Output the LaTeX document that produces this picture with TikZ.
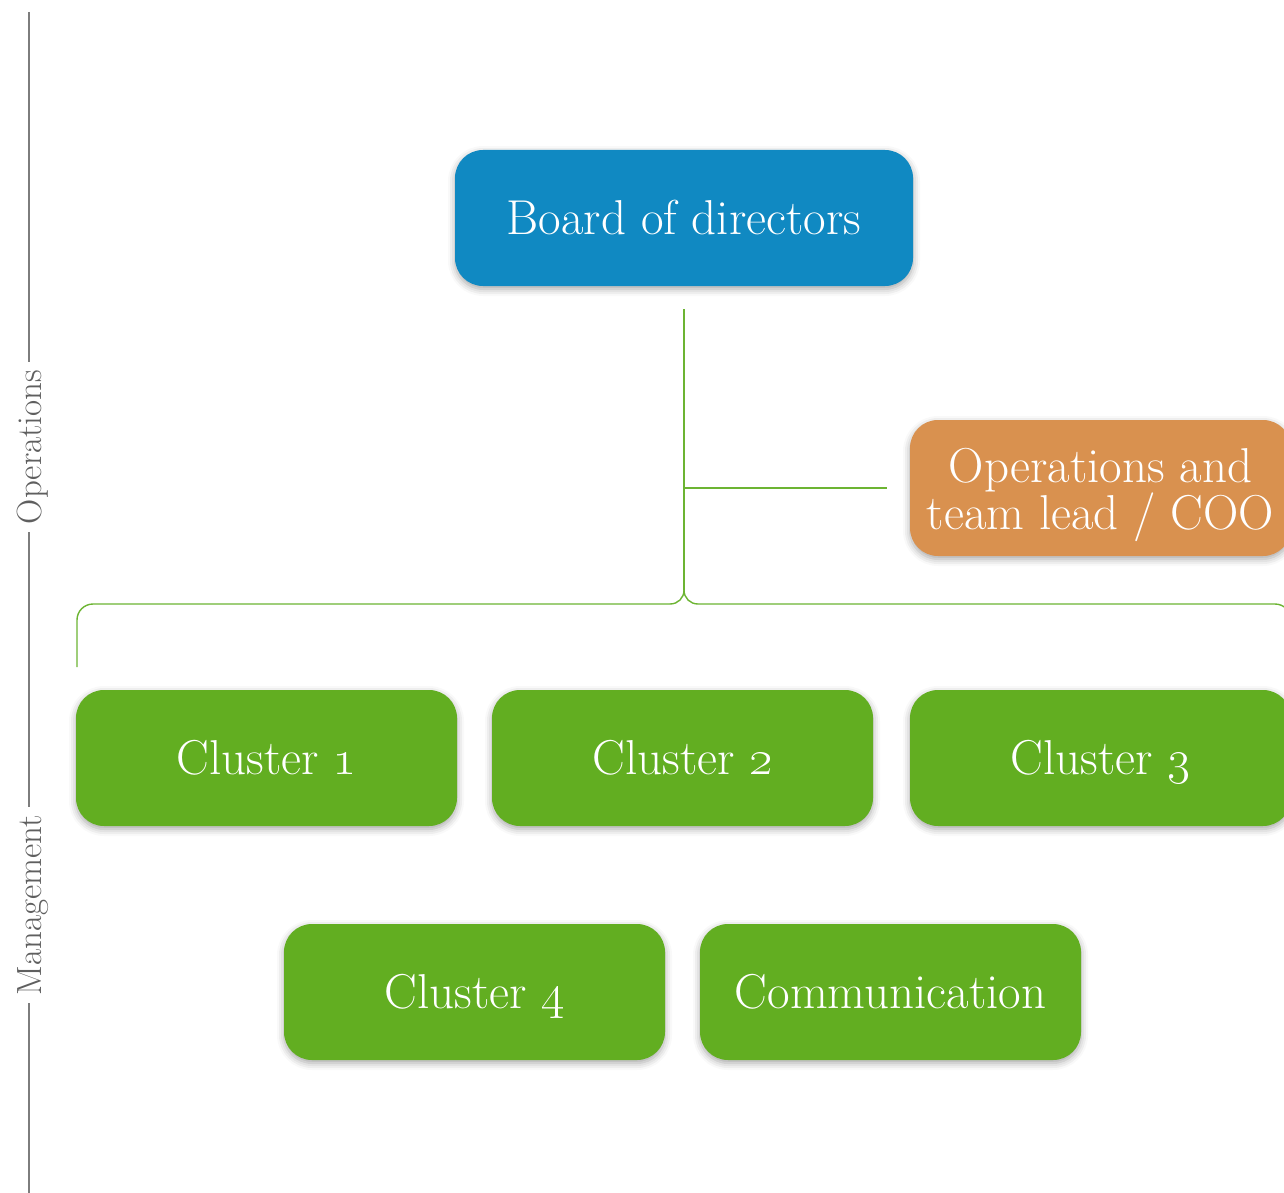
\RequirePackage{fix-cm}
\documentclass[tikz,border=0pt]{standalone}
\usetikzlibrary{shadows.blur}
\definecolor{boardblue}{RGB}{16,137,194}
\definecolor{opsorange}{RGB}{217,145,79}
\definecolor{clgreen}{RGB}{98,174,33}
\definecolor{linegreen}{RGB}{108,180,50}
\definecolor{axisgray}{RGB}{125,125,125}
\definecolor{labelgray}{RGB}{95,95,95}
\begin{document}
\begin{tikzpicture}[x=1pt,y=-1pt,
  box/.style={rounded corners=28pt, minimum width=381pt, minimum height=136pt,
    inner sep=0pt, text=white, font=\fontsize{49}{47}\selectfont,
    blur shadow={shadow xshift=0pt, shadow yshift=-3pt, shadow blur radius=7pt, shadow opacity=35}},
  oneline/.style={text height=32pt, text depth=0pt},
  boxtext/.style={text=white, font=\fontsize{49}{47}\selectfont, inner sep=0pt, align=center},
  conn/.style={draw=linegreen, line width=1.4pt},
  axisline/.style={draw=axisgray, line width=1.6pt},
  sidelabel/.style={rotate=90, text=labelgray, font=\fontsize{35}{37}\selectfont,
    inner xsep=8pt, inner ysep=0pt, outer sep=0pt}]
\useasboundingbox (0,0) rectangle (1284,1193);
\clip (0,0) rectangle (1284,1193);

% side axis
\coordinate (axtop) at (29,12);
\coordinate (axbot) at (29,1193);
\node[sidelabel] (opl) at (33,447) {Operations};
\node[sidelabel] (mgl) at (33,905) {Management};
\draw[axisline] (axtop) -- (axtop |- opl.east);
\draw[axisline] (axtop |- opl.west) -- (axtop |- mgl.east);
\draw[axisline] (axtop |- mgl.west) -- (axbot);

% boxes
\node[box, oneline, fill=boardblue, minimum width=458pt] (board) at (684,218) {Board of directors};
\node[box, fill=opsorange] (ops) at (1100.5,488) {};
\node[boxtext] (opstext) at ([yshift=-7pt]ops.center) {Operations and\\team lead / COO};
\node[box, oneline, fill=clgreen] (c1) at (266.5,758) {Cluster \oldstylenums{1}};
\node[box, oneline, fill=clgreen] (c2) at (682.5,758) {Cluster \oldstylenums{2}};
\node[box, oneline, fill=clgreen] (c3) at (1100.5,758) {Cluster \oldstylenums{3}};
\node[box, oneline, fill=clgreen] (c4) at (474.5,992) {Cluster \oldstylenums{4}};
\node[box, oneline, fill=clgreen] (comm) at (890.5,992) {Communication};

% connectors
\coordinate (tip) at (684,590);
\coordinate (lb) at (77,667);
\coordinate (rb) at (1291,667);
\draw[conn] ([yshift=-23pt]board.south) -- (tip);
\draw[conn] (tip |- ops.west) -- ([xshift=-23pt]ops.west);
\draw[conn, rounded corners=16pt] (lb) -- (77,604) -- (670,604);
\draw[conn] (670,604) .. controls (678,604) and (684,598) .. (tip);
\draw[conn] (tip) .. controls (684,598) and (690,604) .. (698,604);
\draw[conn, rounded corners=16pt] (698,604) -- (1291,604) -- (rb);
\end{tikzpicture}
\end{document}
